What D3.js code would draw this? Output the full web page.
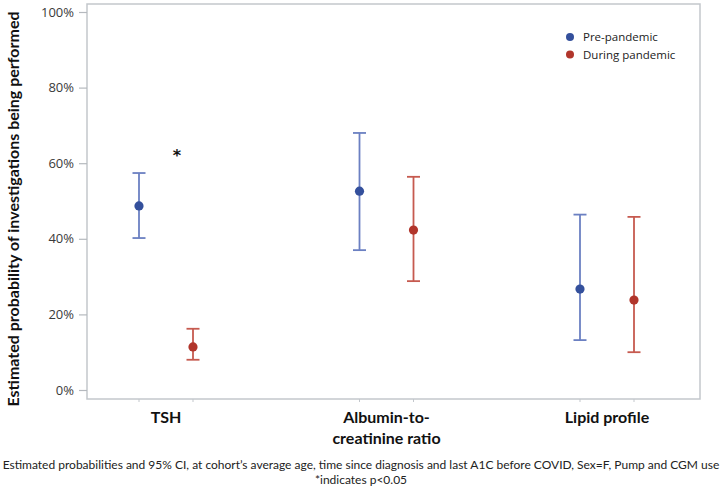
<!DOCTYPE html>
<html><head><meta charset="utf-8">
<script src="https://cdn.jsdelivr.net/npm/d3@7"></script>
<style>body{margin:0;background:#fff}svg{display:block}</style>
</head><body><svg id="c" width="722" height="496"></svg>
<script>
const categories = ["TSH", "Albumin-to-\ncreatinine ratio", "Lipid profile"];
const series = ["Pre-pandemic", "During pandemic"];
const estimate = { "Pre-pandemic": [48.7, 52.6, 26.7], "During pandemic": [11.4, 42.3, 23.8] };
const lower    = { "Pre-pandemic": [40.2, 37.0, 13.2], "During pandemic": [8.0, 28.8, 10.0] };
const upper    = { "Pre-pandemic": [57.4, 68.0, 46.4], "During pandemic": [16.2, 56.4, 45.8] };
const significant = [true, false, false];
const yTicks = [0, 20, 40, 60, 80, 100];
const footnote = ["Estimated probabilities and 95% CI, at cohort\u2019s average age, time since diagnosis and last A1C before COVID, Sex=F, Pump and CGM use", "*indicates p<0.05"];

const pointColor = { "Pre-pandemic": "#34509c", "During pandemic": "#b1352b" };
const barColor = { "Pre-pandemic": "#6b80c2", "During pandemic": "#c65a4f" };

const svg = d3.select("#c");
const frame = { left: 87, right: 700, top: 4, bottom: 399 };

const y = d3.scaleLinear().domain([0, 100]).range([390, 12]);
const x = d3.scalePoint().domain(categories).range([166, 607]);
const xo = d3.scalePoint().domain(series).range([-27, 27]);

// frame
svg.append("rect").attr("x", frame.left).attr("y", frame.top)
  .attr("width", frame.right - frame.left).attr("height", frame.bottom - frame.top)
  .attr("fill", "none").attr("stroke", "#c3c7cc").attr("stroke-width", 1.5);

// y axis
const yAxis = d3.axisLeft(y).tickValues(yTicks).tickFormat(d => d + "%").tickSize(8).tickPadding(5);
const ga = svg.append("g").attr("transform", `translate(${frame.left},0)`).call(yAxis);
ga.select(".domain").remove();
ga.selectAll(".tick line").attr("stroke", "#b5b9be").attr("stroke-width", 1.2);
ga.selectAll(".tick text").attr("fill", "#3a3a3a").style("font-family", "'Open Sans', sans-serif").style("font-size", "13px");

// y title
svg.append("text").attr("transform", `translate(19,${(frame.top + 414) / 2}) rotate(-90)`)
  .attr("text-anchor", "middle").style("font-family", "Lato, sans-serif").style("font-weight", "bold")
  .style("font-size", "16px").attr("fill", "#111")
  .text("Estimated probability of investigations being performed");

// data rows
const rows = [];
series.forEach(s => categories.forEach((c, i) => rows.push({ s, c, v: estimate[s][i], lo: lower[s][i], hi: upper[s][i] })));

// small x ticks at point positions
svg.append("g").selectAll("line").data(rows).join("line")
  .attr("x1", d => x(d.c) + xo(d.s)).attr("x2", d => x(d.c) + xo(d.s))
  .attr("y1", frame.bottom).attr("y2", frame.bottom + 3)
  .attr("stroke", "#c3c7cc").attr("stroke-width", 1);

const g = svg.append("g").selectAll("g").data(rows).join("g")
  .attr("transform", d => `translate(${x(d.c) + xo(d.s)},0)`);
g.append("line").attr("y1", d => y(d.lo)).attr("y2", d => y(d.hi))
  .attr("stroke", d => barColor[d.s]).attr("stroke-width", 1.8);
g.append("line").attr("x1", -6.5).attr("x2", 6.5).attr("y1", d => y(d.hi)).attr("y2", d => y(d.hi))
  .attr("stroke", d => barColor[d.s]).attr("stroke-width", 1.8);
g.append("line").attr("x1", -6.5).attr("x2", 6.5).attr("y1", d => y(d.lo)).attr("y2", d => y(d.lo))
  .attr("stroke", d => barColor[d.s]).attr("stroke-width", 1.8);
g.append("circle").attr("cy", d => y(d.v)).attr("r", 4.6).attr("fill", d => pointColor[d.s]);

// significance star
svg.append("g").selectAll("text").data(categories.filter((c, i) => significant[i])).join("text")
  .attr("x", c => x(c) + 11).attr("y", y(60.6)).attr("text-anchor", "middle")
  .style("font-family", "'DejaVu Sans', sans-serif").style("font-weight", "bold").style("font-size", "16px")
  .attr("fill", "#111").text("*");

// category labels
const cl = svg.append("g").selectAll("text").data(categories).join("text")
  .attr("x", c => x(c)).attr("y", 423).attr("text-anchor", "middle")
  .style("font-family", "Lato, sans-serif").style("font-weight", "bold").style("font-size", "16px").attr("fill", "#111");
cl.selectAll("tspan").data(c => c.split("\n").map(t => ({ t, c }))).join("tspan")
  .attr("x", d => x(d.c)).attr("dy", (d, i) => i ? 21 : 0).text(d => d.t);

// legend
const lg = svg.append("g").selectAll("g").data(series).join("g")
  .attr("transform", (s, i) => `translate(570,${37 + i * 17.5})`);
lg.append("circle").attr("r", 4).attr("fill", s => pointColor[s]);
lg.append("text").attr("x", 13).attr("y", 4).style("font-family", "'Open Sans', sans-serif")
  .style("font-size", "11.5px").attr("fill", "#222").text(s => s);

// footnote
svg.append("g").selectAll("text").data(footnote).join("text")
  .attr("x", 361).attr("y", (d, i) => 469 + i * 15).attr("text-anchor", "middle")
  .style("font-family", "Lato, sans-serif").style("font-size", "12px").attr("fill", "#222").text(d => d);
</script></body></html>
